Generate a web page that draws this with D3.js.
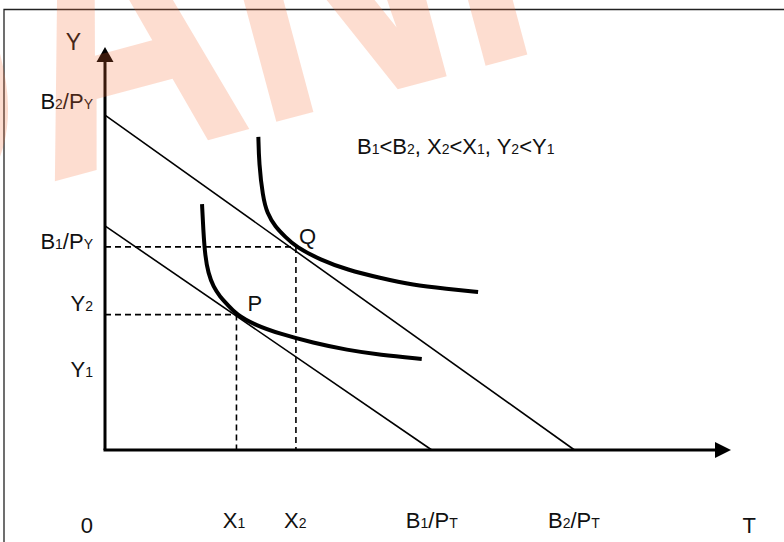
<!DOCTYPE html>
<html><head><meta charset="utf-8">
<script src="https://cdn.jsdelivr.net/npm/d3@7"></script>
<style>html,body{margin:0;padding:0;background:#fff;} svg{display:block;}</style>
</head><body>
<svg id="chart" width="784" height="542"></svg>
<script>
// ---- data (chart units: both axes 0..100) ----
const budgetNames = ["B1", "B2"];
const yIntercepts = [55.6, 83.1];   // B1/PY, B2/PY
const xIntercepts = [52.2, 75.0];   // B1/PT, B2/PT
const ic1X = [15.5, 15.7, 16.0, 16.5, 17.3, 18.4, 19.5, 21.0, 24.0, 28.0, 33.2, 38.7, 43.9, 50.6];
const ic1Y = [61.0, 54.6, 48.0, 43.9, 40.5, 38.0, 36.2, 33.6, 31.0, 28.8, 26.6, 24.8, 23.6, 22.6];
const ic2X = [24.5, 24.6, 25.2, 25.9, 27.2, 28.8, 30.5, 34.4, 38.7, 43.9, 49.2, 54.6, 59.6];
const ic2Y = [77.7, 71.2, 62.9, 58.7, 55.4, 52.9, 50.4, 47.2, 44.7, 42.7, 40.9, 40.0, 39.2];
const pointLabels = ["P", "Q"];
const pointX = [21.0, 30.5];
const pointY = [33.6, 50.4];
const yTickLabels = ["B_2/P_Y", "B_1/P_Y", "Y_2", "Y_1"];
const yTickValues = [86.1, 51.4, 36.0, 19.6];
const xTickLabels = ["X_1", "X_2", "B_1/P_T", "B_2/P_T"];
const xTickValues = [20.6, 30.4, 52.2, 74.9];
const endLabels = ["0", "T"];
const endValues = [-2.9, 102.9];
const axisTitleY = "Y";
const note = "B_1<B_2, X_2<X_1, Y_2<Y_1";
const watermark = "DANI";

// ---- drawing ----
const svg = d3.select("#chart");
const x = d3.scaleLinear().domain([0, 100]).range([105, 731]);
const y = d3.scaleLinear().domain([0, 100]).range([450, 47]);
const FONT = "'Liberation Sans', Arial, sans-serif";

function rich(sel, str, size, sub) {
  const parts = str.match(/_.|[^_]+/g);
  parts.forEach(p => {
    if (p[0] === "_") sel.append("tspan").attr("font-size", sub).text(p.slice(1));
    else sel.append("tspan").attr("font-size", size).text(p);
  });
  return sel;
}

// frame
svg.append("path").attr("d", "M4,542V9.5H784").attr("fill", "none")
  .attr("stroke", "#222").attr("stroke-width", 1.3);

// dashed guides
const guides = svg.append("g").attr("stroke", "#000").attr("stroke-width", 1.6)
  .attr("stroke-dasharray", "6,4").attr("fill", "none");
pointX.forEach((px, i) => {
  guides.append("line").attr("x1", x(0)).attr("y1", y(pointY[i])).attr("x2", x(px)).attr("y2", y(pointY[i]));
  guides.append("line").attr("x1", x(px)).attr("y1", y(pointY[i])).attr("x2", x(px)).attr("y2", y(0));
});

// budget lines
budgetNames.forEach((b, i) => {
  svg.append("line").attr("x1", x(0)).attr("y1", y(yIntercepts[i]))
    .attr("x2", x(xIntercepts[i])).attr("y2", y(0))
    .attr("stroke", "#000").attr("stroke-width", 1.6);
});

// indifference curves
const line = d3.line().x(d => x(d[0])).y(d => y(d[1])).curve(d3.curveBasis);
[[ic1X, ic1Y], [ic2X, ic2Y]].forEach(([xs, ys]) => {
  svg.append("path").attr("d", line(xs.map((v, i) => [v, ys[i]])))
    .attr("fill", "none").attr("stroke", "#000").attr("stroke-width", 4);
});

// axes
svg.append("line").attr("x1", x(0)).attr("y1", y(0)).attr("x2", x(0)).attr("y2", y(100) + 10)
  .attr("stroke", "#000").attr("stroke-width", 3);
svg.append("line").attr("x1", x(0) - 1.5).attr("y1", y(0)).attr("x2", x(100) - 10).attr("y2", y(0))
  .attr("stroke", "#000").attr("stroke-width", 3);
svg.append("path").attr("d", `M${x(0)},${y(100)}L${x(0) - 8.5},${y(100) + 15}L${x(0) + 8.5},${y(100) + 15}Z`).attr("fill", "#000");
svg.append("path").attr("d", `M${x(100)},${y(0)}L${x(100) - 16},${y(0) - 8}L${x(100) - 16},${y(0) + 8}Z`).attr("fill", "#000");

// texts
const T = svg.append("g").attr("font-family", FONT).attr("fill", "#111");
T.append("text").attr("x", 73.5).attr("y", 50).attr("text-anchor", "middle").attr("font-size", 23).text(axisTitleY);
yTickLabels.forEach((l, i) => {
  rich(T.append("text").attr("x", 93).attr("y", y(yTickValues[i]) + 6).attr("text-anchor", "end"), l, 22, 14);
});
xTickLabels.forEach((l, i) => {
  rich(T.append("text").attr("x", x(xTickValues[i])).attr("y", 528).attr("text-anchor", "middle"), l, 22, 14);
});
endLabels.forEach((l, i) => {
  T.append("text").attr("x", x(endValues[i])).attr("y", 533).attr("text-anchor", "middle").attr("font-size", 22).text(l);
});
const ptOff = [[11, -4], [3, -3]];
pointLabels.forEach((l, i) => {
  T.append("text").attr("x", x(pointX[i]) + ptOff[i][0]).attr("y", y(pointY[i]) + ptOff[i][1])
    .attr("font-size", 22).text(l);
});
rich(T.append("text").attr("x", 357).attr("y", 154), note, 22, 14);

// watermark
svg.append("text").attr("transform", "translate(48,183) rotate(-15) scale(1,1.3)").attr("x", -217)
  .attr("font-family", FONT).attr("font-weight", "bold").attr("font-size", 300)
  .attr("fill", "rgb(247,110,50)").attr("fill-opacity", 0.23).text(watermark);
</script>
</body></html>
